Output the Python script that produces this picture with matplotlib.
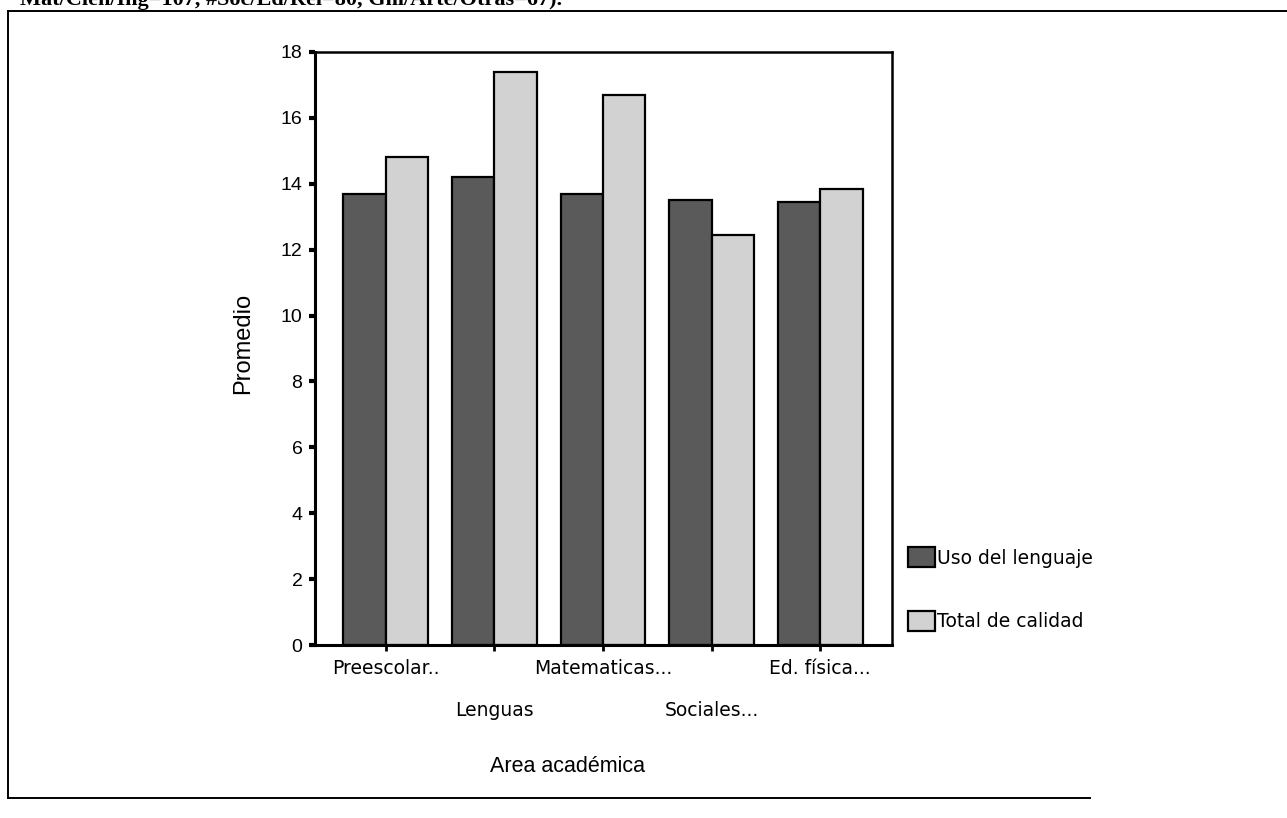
import matplotlib
matplotlib.use("Agg")
import matplotlib.pyplot as plt
from matplotlib.lines import Line2D
import numpy as np

plt.rcParams["font.family"] = ["Liberation Sans", "DejaVu Sans"]

# Promedio por área académica
areas = ["Preescolar..", "Lenguas", "Matematicas...", "Sociales...", "Ed. física..."]
uso_lenguaje = [13.7, 14.2, 13.7, 13.5, 13.45]
total_calidad = [14.8, 17.4, 16.7, 12.45, 13.85]
series_names = ["Uso del lenguaje", "Total de calidad"]
y_ticks = [0, 2, 4, 6, 8, 10, 12, 14, 16, 18]

W, H = 1287, 818
fig = plt.figure(figsize=(W / 100, H / 100), dpi=100)
fig.patch.set_facecolor("white")


def fx(px):
    return px / W


def fy(py):
    return 1 - py / H


# tail of the caption line above the figure box
fig.text(fx(20), fy(5), "Mat/Cien/Ing=107, #Soc/Ed/Rel=80, Gnl/Arte/Otras=67).",
         family=["Liberation Serif"], fontweight="bold", fontsize=16,
         va="baseline", ha="left")

# box around the figure
for xs, ys in [([8, W], [11, 11]), ([8, 8], [11, 798]), ([8, 1090], [798, 798])]:
    fig.add_artist(Line2D([fx(x) for x in xs], [fy(y) for y in ys],
                          color="black", lw=1.4, transform=fig.transFigure))

ax = fig.add_axes([fx(315), fy(645), fx(892) - fx(315), fy(52) - fy(645)])

x = np.arange(len(areas))
bw = 0.39
dark = "#5a5a5a"
light = "#d2d2d2"
ax.bar(x - bw / 2, uso_lenguaje, bw, color=dark, edgecolor="black",
       linewidth=1.6, label=series_names[0])
ax.bar(x + bw / 2, total_calidad, bw, color=light, edgecolor="black",
       linewidth=1.6, label=series_names[1])

ax.set_xlim(-0.65, len(areas) - 1 + 0.66)
ax.set_ylim(0, 18)
ax.set_yticks(y_ticks)
ax.set_yticklabels([str(t) for t in y_ticks], fontsize=14)
ax.tick_params(axis="y", direction="out", length=4, width=3, pad=5)

ax.set_xticks(x)
ax.set_xticklabels([])
ax.tick_params(axis="x", direction="out", length=4, width=2)
for i, name in enumerate(areas):
    row = 0 if i % 2 == 0 else 1
    ax.annotate(name, xy=(x[i], 0), xycoords=("data", "axes fraction"),
                xytext=(0, -24 - row * 41), textcoords="offset pixels",
                ha="center", va="center", fontsize=13.5,
                family=["DejaVu Sans"])

for side in ["left", "bottom"]:
    ax.spines[side].set_linewidth(2.2)
for side in ["top", "right"]:
    ax.spines[side].set_linewidth(1.8)

fig.text(fx(243), fy(343), "Promedio", rotation=90, ha="center", va="center",
         fontsize=17)
fig.text(fx(568), fy(767), "Area académica", ha="center", va="center",
         fontsize=15.5)

leg = ax.legend(loc="upper left", bbox_to_anchor=(fx(908), fy(547)),
                bbox_transform=fig.transFigure, frameon=False,
                prop={"family": ["DejaVu Sans"], "size": 13.5},
                handlelength=1.45, handleheight=1.3, handletextpad=0.1,
                labelspacing=2.3, borderpad=0, borderaxespad=0)
for h in leg.legend_handles:
    h.set_linewidth(1.6)

fig.savefig("out.png", dpi=100, facecolor="white")
